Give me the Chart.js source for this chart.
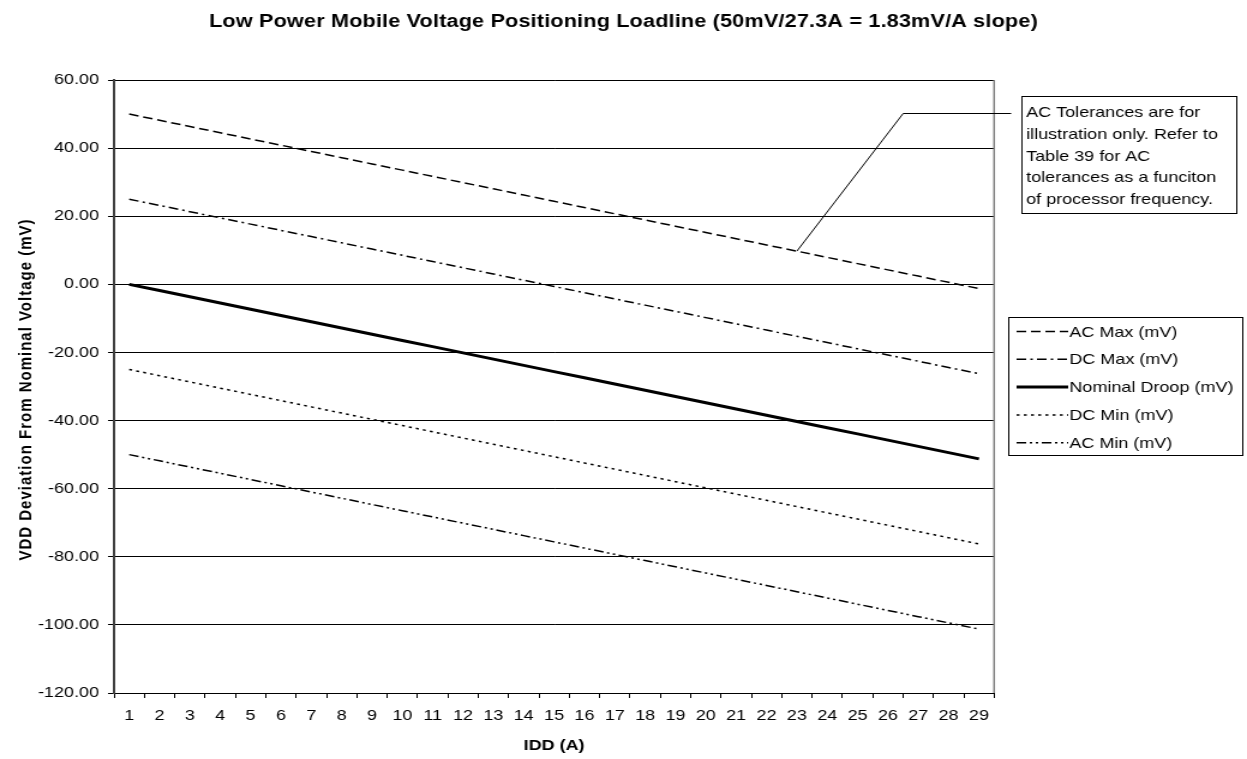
<!DOCTYPE html>
<html>
<head>
<meta charset="utf-8">
<script src="https://cdn.jsdelivr.net/npm/chart.js@4/dist/chart.umd.min.js"></script>
<style>
    body { margin: 0; background: #fff; }
</style>
</head>
<body>
<!-- the reference is stretched sideways, so draw narrow and stretch the canvas (inline style so Chart.js keeps it) -->
<canvas id="loadline" width="1039" height="759" style="display:block;width:1247px;height:759px"></canvas>
<script>
const idd = ['1','2','3','4','5','6','7','8','9','10','11','12','13','14','15','16','17','18','19','20','21','22','23','24','25','26','27','28','29'];

const acMax = [50.00, 48.17, 46.34, 44.51, 42.68, 40.85, 39.02, 37.19, 35.36, 33.53, 31.70, 29.87, 28.04, 26.21, 24.38,
    22.55, 20.72, 18.89, 17.06, 15.23, 13.40, 11.57, 9.74, 7.91, 6.08, 4.25, 2.42, 0.59, -1.24];
const dcMax = [25.00, 23.17, 21.34, 19.51, 17.68, 15.85, 14.02, 12.19, 10.36, 8.53, 6.70, 4.87, 3.04, 1.21, -0.62,
    -2.45, -4.28, -6.11, -7.94, -9.77, -11.60, -13.43, -15.26, -17.09, -18.92, -20.75, -22.58, -24.41, -26.24];
const nominalDroop = [0.00, -1.83, -3.66, -5.49, -7.32, -9.15, -10.98, -12.81, -14.64, -16.47, -18.30, -20.13, -21.96, -23.79, -25.62,
    -27.45, -29.28, -31.11, -32.94, -34.77, -36.60, -38.43, -40.26, -42.09, -43.92, -45.75, -47.58, -49.41, -51.24];
const dcMin = [-25.00, -26.83, -28.66, -30.49, -32.32, -34.15, -35.98, -37.81, -39.64, -41.47, -43.30, -45.13, -46.96, -48.79, -50.62,
    -52.45, -54.28, -56.11, -57.94, -59.77, -61.60, -63.43, -65.26, -67.09, -68.92, -70.75, -72.58, -74.41, -76.24];
const acMin = [-50.00, -51.83, -53.66, -55.49, -57.32, -59.15, -60.98, -62.81, -64.64, -66.47, -68.30, -70.13, -71.96, -73.79, -75.62,
    -77.45, -79.28, -81.11, -82.94, -84.77, -86.60, -88.43, -90.26, -92.09, -93.92, -95.75, -97.58, -99.41, -101.24];

const chartTitle = 'Low Power Mobile Voltage Positioning Loadline (50mV/27.3A = 1.83mV/A slope)';
const yTitle = 'VDD Deviation From Nominal Voltage (mV)';
const noteLines = ['AC Tolerances are for', 'illustration only. Refer to', 'Table 39 for AC',
    'tolerances as a funciton', 'of processor frequency.'];
const notePointIndex = 22; // AC Max at IDD = 23

const FONT = "'Liberation Sans', Arial, sans-serif";

function series(label, data, width, dash) {
    return {
        label: label,
        data: data,
        borderColor: '#000',
        backgroundColor: '#000',
        borderWidth: width,
        borderDash: dash,
        pointRadius: 0,
        tension: 0
    };
}

// title, y title, plot border, legend box and the note callout
const extrasPlugin = {
    id: 'extras',
    afterDraw(chart) {
        const ctx = chart.ctx;
        const area = chart.chartArea;
        ctx.save();

        ctx.fillStyle = '#000';
        ctx.textAlign = 'center';
        ctx.textBaseline = 'middle';
        ctx.font = 'bold 18px ' + FONT;
        ctx.letterSpacing = '0.15px';
        ctx.fillText(chartTitle, chart.width / 2, 22);

        // y axis title, spaced out like the original
        ctx.save();
        ctx.translate(22, (area.top + area.bottom) / 2 + 3);
        ctx.rotate(-Math.PI / 2);
        ctx.font = 'bold 15px ' + FONT;
        ctx.letterSpacing = '1px';
        ctx.fillText(yTitle, 0, 0);
        ctx.restore();
        ctx.letterSpacing = '0px';

        // right edge of plot area
        ctx.strokeStyle = '#808080';
        ctx.lineWidth = 1.5;
        ctx.beginPath();
        ctx.moveTo(area.right, area.top);
        ctx.lineTo(area.right, area.bottom);
        ctx.stroke();

        // legend
        ctx.strokeStyle = '#000';
        ctx.lineWidth = 1;
        ctx.strokeRect(840.5, 317.5, 195, 138);
        ctx.font = '15px ' + FONT;
        ctx.textAlign = 'left';
        chart.data.datasets.forEach((ds, i) => {
            const y = 331.5 + i * 27.8;
            ctx.setLineDash(ds.borderDash);
            ctx.lineWidth = ds.borderWidth;
            ctx.beginPath();
            ctx.moveTo(847, y);
            ctx.lineTo(890, y);
            ctx.stroke();
            ctx.setLineDash([]);
            ctx.fillText(ds.label, 891, y + 1);
        });

        // note box
        ctx.lineWidth = 1;
        ctx.strokeRect(851.5, 96.5, 179, 117);
        noteLines.forEach((line, i) => {
            ctx.fillText(line, 855, 113 + i * 21.75);
        });

        // callout line to the AC Max curve
        const px = chart.scales.x.getPixelForValue(notePointIndex);
        const py = chart.scales.y.getPixelForValue(acMax[notePointIndex]);
        ctx.beginPath();
        ctx.moveTo(842.5, 113.5);
        ctx.lineTo(752.5, 113.5);
        ctx.lineTo(px, py);
        ctx.stroke();

        ctx.restore();
    }
};

new Chart(document.getElementById('loadline'), {
    type: 'line',
    data: {
        labels: idd,
        datasets: [
            series('AC Max (mV)', acMax, 1.5, [8, 4]),
            series('DC Max (mV)', dcMax, 1.5, [8, 3.5, 2, 3.5]),
            series('Nominal Droop (mV)', nominalDroop, 3, []),
            series('DC Min (mV)', dcMin, 1.5, [2.5, 3.5]),
            series('AC Min (mV)', acMin, 1.5, [8, 3, 2, 3, 2, 3])
        ]
    },
    options: {
        responsive: false,
        devicePixelRatio: 1,
        animation: false,
        layout: {
            padding: { top: 80, right: 210.7, bottom: 0, left: 0 }
        },
        plugins: {
            legend: { display: false },
            title: { display: false },
            tooltip: { enabled: false }
        },
        scales: {
            x: {
                offset: true,
                grid: {
                    offset: true,
                    drawOnChartArea: false,
                    color: '#000',
                    tickLength: 5
                },
                border: { color: '#000', width: 1 },
                ticks: {
                    color: '#000',
                    font: { family: FONT, size: 15 },
                    maxRotation: 0,
                    autoSkip: false,
                    padding: 9
                },
                title: {
                    display: true,
                    text: 'IDD (A)',
                    color: '#000',
                    font: { family: FONT, size: 15, weight: 'bold' },
                    padding: { top: 0, bottom: 4 }
                },
                afterFit(scale) { scale.height = 66; }
            },
            y: {
                min: -120,
                max: 60,
                grid: {
                    color: '#000',
                    lineWidth: 1,
                    tickLength: 5
                },
                border: { color: '#404040', width: 2 },
                ticks: {
                    stepSize: 20,
                    color: '#000',
                    font: { family: FONT, size: 15 },
                    padding: 7.5,
                    callback: v => v.toFixed(2)
                },
                afterFit(scale) { scale.width = 95; }
            }
        }
    },
    plugins: [extrasPlugin]
});
</script>
</body>
</html>
